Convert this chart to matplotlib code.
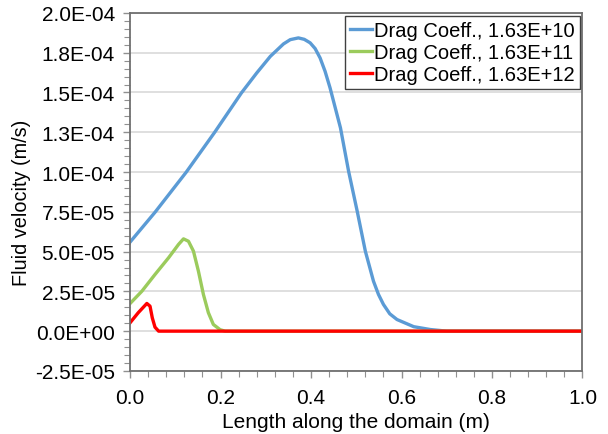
import matplotlib
matplotlib.use("Agg")
import matplotlib.pyplot as plt
from matplotlib.ticker import AutoMinorLocator

plt.rcParams['font.family'] = ['Liberation Sans', 'DejaVu Sans']

# Drag Coeff. 1.63E+10
x_blue = [0.0, 0.055, 0.124, 0.187, 0.246, 0.280, 0.310, 0.339, 0.354, 0.372,
          0.385, 0.398, 0.409, 0.420, 0.431, 0.442, 0.465, 0.483, 0.502, 0.520,
          0.538, 0.549, 0.560, 0.574, 0.590, 0.627, 0.664, 0.700, 1.0]
y_blue = [5.6e-05, 7.47e-05, 9.99e-05, 1.25e-04, 1.497e-04, 1.623e-04, 1.727e-04,
          1.805e-04, 1.832e-04, 1.843e-04, 1.834e-04, 1.812e-04, 1.776e-04, 1.717e-04,
          1.633e-04, 1.529e-04, 1.278e-04, 1.005e-04, 7.54e-05, 5.03e-05,
          3.14e-05, 2.31e-05, 1.68e-05, 1.09e-05, 7.3e-06, 2.8e-06, 1.0e-06, 0.0, 0.0]

# Drag Coeff. 1.63E+11
x_green = [0.0, 0.026, 0.055, 0.085, 0.107, 0.118, 0.129, 0.140, 0.151, 0.162,
           0.173, 0.184, 0.199, 0.210, 1.0]
y_green = [1.74e-05, 2.51e-05, 3.56e-05, 4.61e-05, 5.45e-05, 5.8e-05, 5.65e-05,
           5.03e-05, 3.77e-05, 2.31e-05, 1.16e-05, 4.2e-06, 0.9e-06, 0.0, 0.0]

# Drag Coeff. 1.63E+12
x_red = [0.0, 0.018, 0.037, 0.044, 0.049, 0.055, 0.063, 1.0]
y_red = [5.3e-06, 1.16e-05, 1.74e-05, 1.57e-05, 8.4e-06, 2.5e-06, 0.0, 0.0]

labels = ["Drag Coeff., 1.63E+10", "Drag Coeff., 1.63E+11", "Drag Coeff., 1.63E+12"]
colors = ["#5B9BD5", "#9BCB5C", "#FF0000"]

y_ticks = [-2.5e-05, 0.0, 2.5e-05, 5.0e-05, 7.5e-05, 1.0e-04, 1.25e-04, 1.5e-04, 1.75e-04, 2.0e-04]
y_tick_labels = ["-2.5E-05", "0.0E+00", "2.5E-05", "5.0E-05", "7.5E-05",
                 "1.0E-04", "1.3E-04", "1.5E-04", "1.8E-04", "2.0E-04"]
x_ticks = [0.0, 0.2, 0.4, 0.6, 0.8, 1.0]
x_tick_labels = ["0.0", "0.2", "0.4", "0.6", "0.8", "1.0"]

fig = plt.figure(figsize=(6.08, 4.35), dpi=100)
ax = fig.add_axes([0.214, 0.145, 0.744, 0.823])

ax.plot(x_blue, y_blue, color=colors[0], lw=2.4, label=labels[0])
ax.plot(x_green, y_green, color=colors[1], lw=2.4, label=labels[1])
ax.plot(x_red, y_red, color=colors[2], lw=2.4, label=labels[2])

ax.set_xlim(0, 1.0)
ax.set_ylim(-2.5e-05, 2.0e-04)
ax.set_xticks(x_ticks)
ax.set_xticklabels(x_tick_labels)
ax.set_yticks(y_ticks)
ax.set_yticklabels(y_tick_labels)
ax.xaxis.set_minor_locator(AutoMinorLocator(5))
ax.yaxis.set_minor_locator(AutoMinorLocator(5))
ax.tick_params(which='both', direction='out', colors='#909090', labelcolor='black', labelsize=15)
ax.tick_params(which='major', length=5, width=1)
ax.tick_params(axis='x', which='major', pad=7)
ax.tick_params(axis='y', which='major', pad=6)
ax.tick_params(which='minor', length=4, width=0.8)

ax.grid(axis='y', which='major', color='#D9D9D9', lw=1.2)
ax.set_axisbelow(True)
for s in ax.spines.values():
    s.set_color('#707070')
    s.set_linewidth(1.3)

ax.set_xlabel("Length along the domain (m)", fontsize=15, labelpad=4)
ax.set_ylabel("Fluid velocity (m/s)", fontsize=14.3)
ax.yaxis.set_label_coords(-0.218, 0.473)

leg = ax.legend(loc='upper right', bbox_to_anchor=(580 / 608, 1 - 17 / 435),
                bbox_transform=fig.transFigure, fontsize=14.5, handlelength=1.1,
                handletextpad=0.1, borderpad=0.25, labelspacing=0.15, borderaxespad=0,
                fancybox=False, framealpha=1, edgecolor='#404040')
leg.get_frame().set_linewidth(1.0)

plt.savefig("out.png", dpi=100)
plt.close()
